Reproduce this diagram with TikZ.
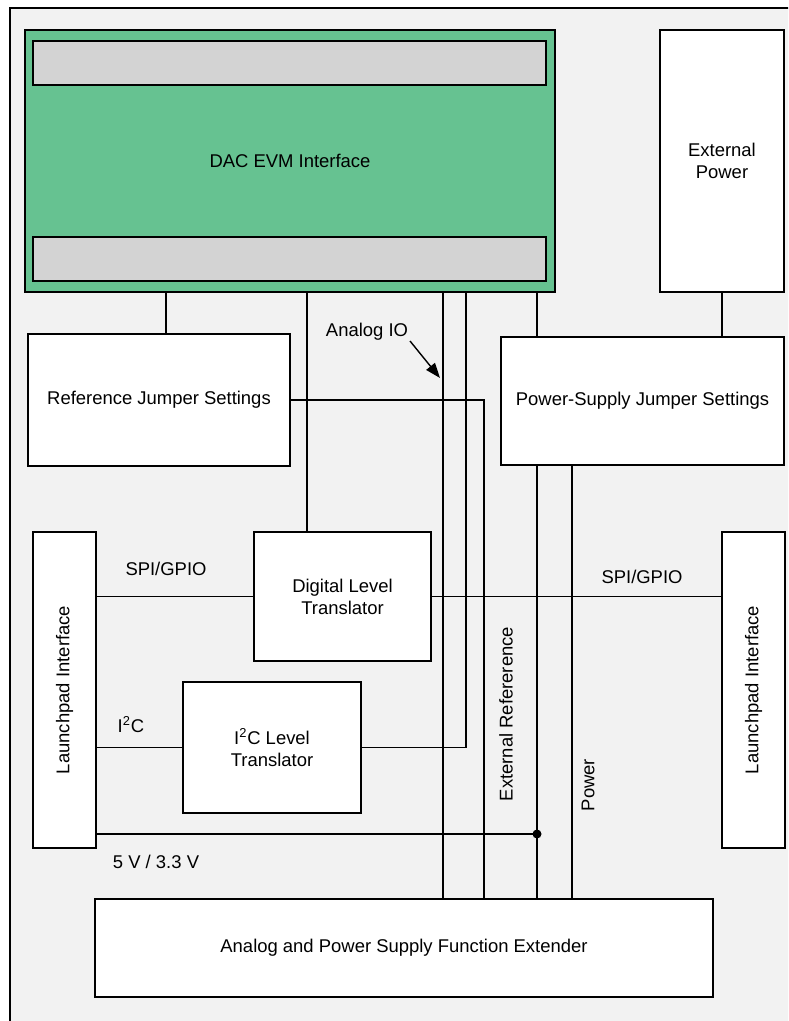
\documentclass[tikz,border=0pt]{standalone}
\usepackage{fontspec}
\setmainfont{Liberation Sans}
\usetikzlibrary{arrows.meta}
\definecolor{boardgray}{HTML}{F2F2F2}
\definecolor{evmgreen}{HTML}{66C291}
\definecolor{headgray}{HTML}{D3D3D3}
\begin{document}
\begin{tikzpicture}[x=0.02cm,y=-0.02cm,
    font=\fontsize{10.5}{12.6}\selectfont,
    block/.style={draw,line width=1.2pt,fill=white,align=center,inner sep=0pt},
    wire/.style={line width=0.6pt},
    lbl/.style={inner sep=0pt,align=center}]
  \fill[white] (0,0) rectangle (788,1021);
  \clip (0,0) rectangle (788,1021);
  % board outline
  \draw[line width=1.2pt,fill=boardgray] (10,8) rectangle (800,1040);
  % blocks
  \node[block,fill=evmgreen,minimum width=10.6cm,minimum height=5.24cm] (dac) at (290,161) {DAC EVM Interface};
  \node[block,fill=headgray,minimum width=10.26cm,minimum height=0.88cm] (dactop) at (289.5,63) {};
  \node[block,fill=headgray,minimum width=10.26cm,minimum height=0.88cm] (dacbot) at (289.5,259) {};
  \node[block,minimum width=2.48cm,minimum height=5.24cm] (extpwr) at (722,161) {External\\Power};
  \node[block,minimum width=5.24cm,minimum height=2.64cm] (refjmp) at (159,400) {Reference Jumper Settings};
  \node[block,minimum width=5.66cm,minimum height=2.56cm] (psjmp) at (642.5,401) {Power-Supply Jumper Settings};
  \node[block,minimum width=1.26cm,minimum height=6.32cm] (lpleft) at (64.5,690) {};
  \node[block,minimum width=1.26cm,minimum height=6.32cm] (lpright) at (753.5,690) {};
  \node[lbl,rotate=90] at (lpleft) {Launchpad Interface};
  \node[lbl,rotate=90] at (lpright) {Launchpad Interface};
  \node[block,minimum width=3.54cm,minimum height=2.58cm] (dlt) at (342.5,596.5) {Digital Level\\Translator};
  \node[block,minimum width=3.56cm,minimum height=2.62cm] (i2c) at (272,747.5) {I\textsuperscript{2}C Level\\Translator};
  \node[block,minimum width=12.36cm,minimum height=1.96cm] (afe) at (404,948) {Analog and Power Supply Function Extender};
  % bus positions
  \coordinate (busref) at (166,0);
  \coordinate (busdig) at (307,0);
  \coordinate (busaio) at (443,0);
  \coordinate (busi2c) at (466,0);
  \coordinate (busextref) at (484,0);
  \coordinate (busvdd) at (537,0);
  \coordinate (buspwr) at (572,0);
  \coordinate (junc) at (537,834);
  \coordinate (aiostart) at (410,341);
  \coordinate (aiotip) at (440,378);
  % connections
  \begin{scope}[wire]
    \draw (dac.south -| busref) -- (refjmp.north -| busref);
    \draw (dac.south -| busdig) -- (dlt.north -| busdig);
    \draw (dac.south -| busaio) -- (afe.north -| busaio);
    \draw (dac.south -| busi2c) |- (i2c.east);
    \draw (dac.south -| busvdd) -- (psjmp.north -| busvdd);
    \draw (extpwr.south) -- (psjmp.north -| extpwr.south);
    \draw (refjmp.east) -| (afe.north -| busextref);
    \draw (psjmp.south -| busvdd) -- (afe.north -| busvdd);
    \draw (psjmp.south -| buspwr) -- (afe.north -| buspwr);
    \draw (lpleft.east |- dlt.west) -- (dlt.west);
    \draw (dlt.east) -- (lpright.west |- dlt.east);
    \draw (lpleft.east |- i2c.west) -- (i2c.west);
    \draw (lpleft.east |- junc) -- (junc);
  \end{scope}
  \fill (junc) circle[radius=0.09cm];
  % labels
  \node[lbl] (aiolbl) at (367,332) {Analog IO};
  \draw[line width=0.8pt,-{Triangle[length=0.3cm,width=0.22cm]}] (aiostart) -- (aiotip);
  \node[lbl] (spil) at (166,569) {SPI/GPIO};
  \node[lbl] (spir) at (642,577) {SPI/GPIO};
  \node[lbl] (i2clbl) at (131,725) {I\textsuperscript{2}C};
  \node[lbl] (vlbl) at (156,862) {5 V / 3.3 V};
  \node[lbl,rotate=90] (extreflbl) at (506,714) {External Refererence};
  \node[lbl,rotate=90] (pwrlbl) at (588,785) {Power};
\end{tikzpicture}
\end{document}
